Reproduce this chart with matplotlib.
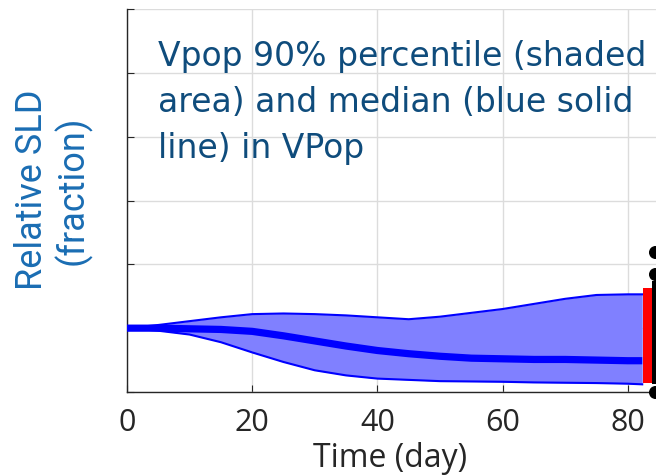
import matplotlib
matplotlib.use("Agg")
import matplotlib.pyplot as plt
import numpy as np

# Data
t = [0, 5, 10, 15, 20, 25, 30, 35, 40, 45, 50, 55, 60, 65, 70, 75, 80, 82.3]
upper = [1.00, 1.05, 1.11, 1.17, 1.22, 1.23, 1.22, 1.20, 1.17, 1.14, 1.18, 1.24, 1.30, 1.38, 1.46, 1.52, 1.53, 1.53]
median = [1.00, 1.00, 0.99, 0.98, 0.95, 0.88, 0.80, 0.72, 0.65, 0.60, 0.56, 0.53, 0.52, 0.51, 0.51, 0.50, 0.49, 0.49]
lower = [1.00, 0.96, 0.90, 0.78, 0.62, 0.47, 0.34, 0.26, 0.21, 0.19, 0.17, 0.165, 0.16, 0.15, 0.145, 0.14, 0.13, 0.12]

red_bar_x = [82.4, 83.8]
red_bar_y = [0.14, 1.63]
black_bar_x = [83.8, 86.0]
black_bar_y = [0.13, 1.74]
dots_x = [84.3, 84.3, 84.3]
dots_y = [2.19, 1.85, 0.0]

xticks = [0, 20, 40, 60, 80]
yticks = [0, 1, 2, 3, 4, 5, 6]

fig = plt.figure(figsize=(6.56, 4.77), dpi=100)
ax = fig.add_axes([127/656, 84/477, 529/656, 383/477])

ax.fill_between(t, lower, upper, color=(0.5, 0.5, 1.0), lw=0, zorder=2)
ax.plot(t, upper, color="#0000ff", lw=1.5, zorder=3)
ax.plot(t, lower, color="#0000ff", lw=1.5, zorder=3)
ax.plot(t, median, color="#0000ff", lw=5.2, zorder=4, solid_capstyle="butt")

ax.fill_between(red_bar_x, [red_bar_y[0]] * 2, [red_bar_y[1]] * 2, color="#ff0000", lw=0, zorder=5)
ax.fill_between(black_bar_x, [black_bar_y[0]] * 2, [black_bar_y[1]] * 2, color="#000000", lw=0, zorder=5)
ax.scatter(dots_x, dots_y, s=70, color="black", zorder=6, clip_on=False)

ax.set_xlim(0, 84.5)
ax.set_ylim(0, 6)
ax.set_xticks(xticks)
ax.set_yticks(yticks)
ax.set_yticklabels([])
ax.grid(True, color="#dcdcdc", lw=1.0, zorder=0)
ax.set_axisbelow(True)
for s in ["top", "right"]:
    ax.spines[s].set_visible(False)
for s in ["left", "bottom"]:
    ax.spines[s].set_color("#262626")
    ax.spines[s].set_linewidth(1.0)
ax.tick_params(direction="in", length=5, color="#262626", labelsize=22,
               labelcolor="#262626", pad=11)
for lab in ax.get_xticklabels():
    lab.set_fontfamily("Open Sans")

fig.text(390/656, 10/477, "Time (day)", ha="center", va="baseline",
         fontsize=23, family="Open Sans", color="#262626")

fig.text(53/656, 1 - 190/477, "Relative SLD\n(fraction)", rotation=90,
         ha="center", va="center", fontsize=26, family="Roboto",
         color="#1a6db3", linespacing=1.1, multialignment="center")

ax.text(158/656, 1 - 40/477,
        "Vpop 90% percentile (shaded\narea) and median (blue solid\nline) in VPop",
        transform=fig.transFigure, ha="left", va="top", fontsize=23.8,
        family="DejaVu Sans", color="#0f4c7c", linespacing=1.5)

fig.savefig("out.png", dpi=100)
